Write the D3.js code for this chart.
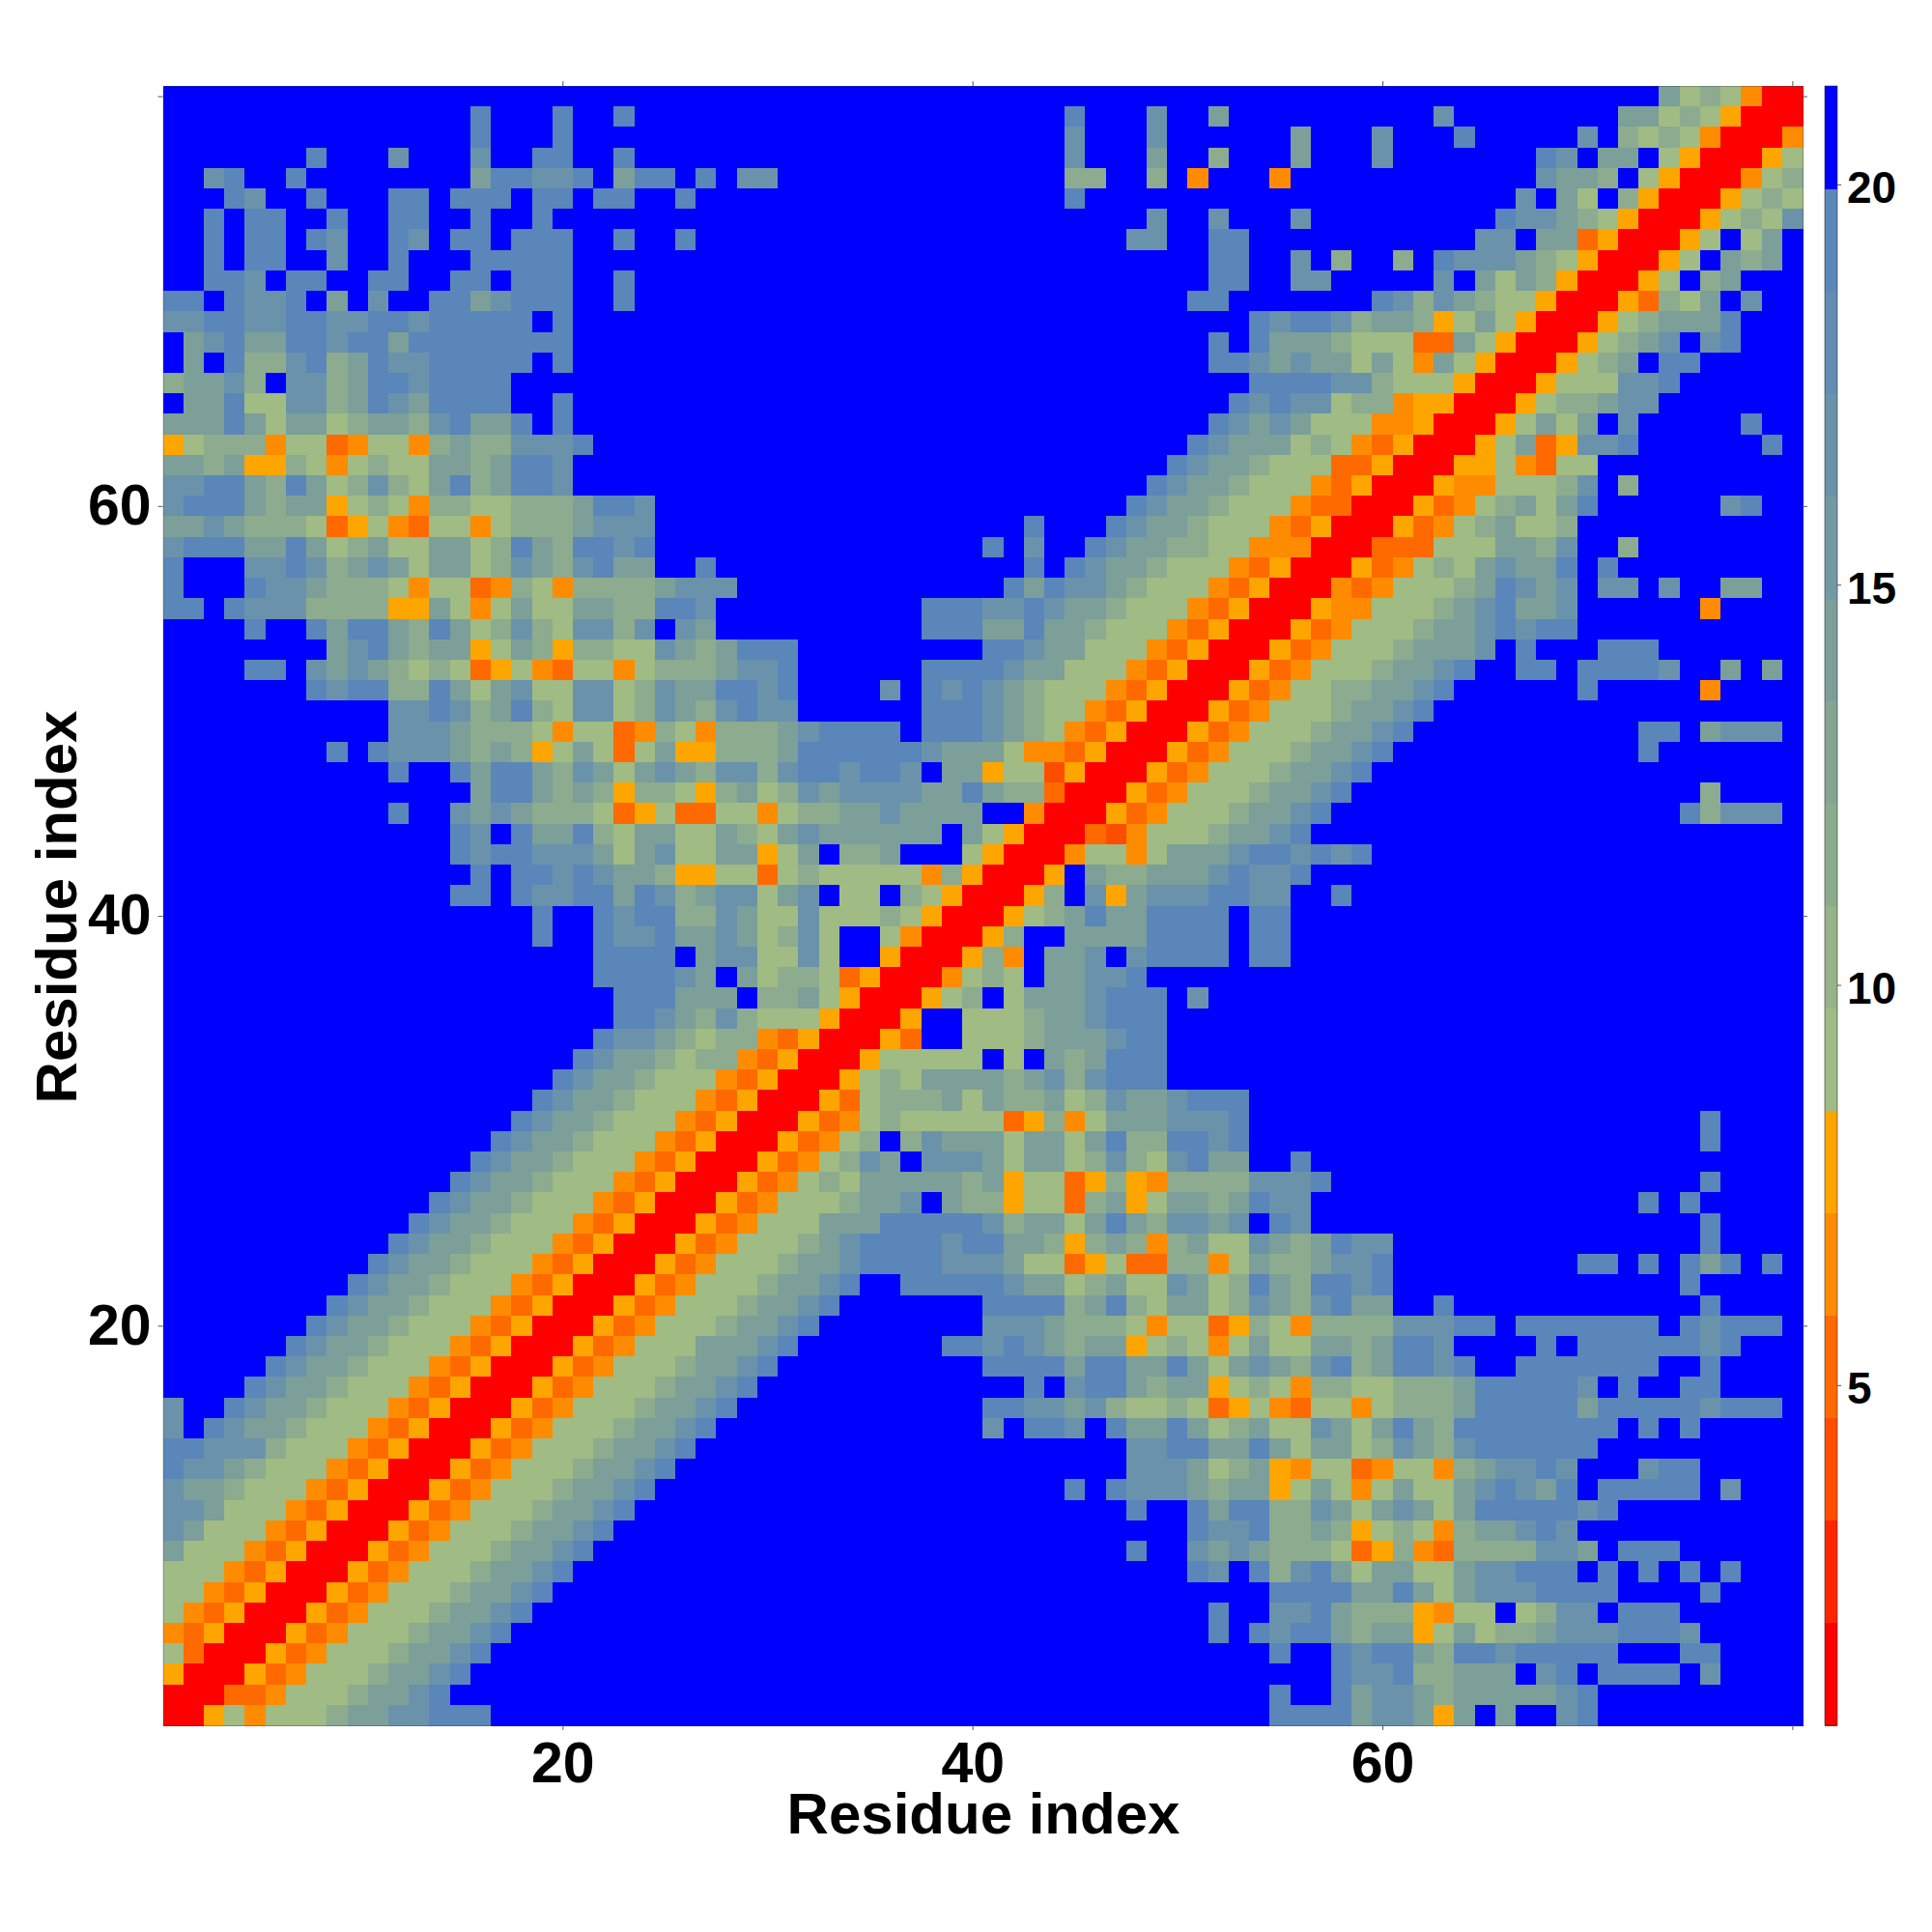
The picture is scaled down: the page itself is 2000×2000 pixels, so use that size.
<!DOCTYPE html>
<html><head><meta charset="utf-8">
<script src="https://cdn.jsdelivr.net/npm/d3@7"></script>
<style>html,body{margin:0;padding:0;background:#fff}svg{display:block}</style>
</head><body><div id="chart"></div>
<script>
// Residue-residue map. One string per row, top row (residue 80) first.
// Each char is a colour-band index (hex); [n] is a run of n cells in the top band.
const rowResidues = d3.range(80, 0, -1);
const colResidues = d3.range(1, 81);
const cellRows = [
"[27]|[27]|[19]a686400",
"[15]e[3]e[2]e[4]|[17]e[3]c[2]a[2]|[8]c[8]aa6865000",
"[15]e[3]e[7]|[17]c[3]c[5]|fa[3]c[3]e[5]cf868640004",
"[7]e[3]c[3]c[2]ee[2]e[4]|[17]c[3]a[2]8[2]|fa[3]c[7]ecfaaf6500056",
"[2]ce[2]e[8]aeeccefaeefe|fcc[14]88[2]8f4[3]|4[12]caa8f65000468",
"[3]ec[2]e[3]eefeeefeefee[2]ef|[17]e[9]|[12]cfa6f850005686",
"[2]efee[2]e[2]ee[2]e[2]e[8]|[21]c[2]c[2]|fc[9]ecca8650005686c",
"[2]efeefec[2]ecfeefeee[2]e[2]ef|[20]cc[2]eef|[10]ccfaa3500056f6af",
"[2]efee[2]c[2]e[3]eeeee[7]|[24]eef|fcf8[2]8feccca86500056fa8af",
"[2]eecfee[2]ee[2]eefeee[2]e[4]|[24]eef|fcc[5]cfa6a8500056f8a[3]",
"eefeccefafc[2]eeaceee[2]e[4]|[23]ee[2]|[5]ec8ca86650005386afc[2]",
"cceecceecceeceeeeefe[7]|[26]e|ceec8aa856a65000568aaae[3]",
"faceaaeeceeaeeeeeeee[7]|[24]efe|aaa866633a65000568acfce[3]",
"fafe88ce8aecceeeeefe[7]|[24]eec|acaa6a64a65000568afee[5]",
"8aac8fcc8aeeceeee[10]|[26]e|eeecc866650005666cce[6]",
"faae66cc8aecaeeee[2]e[7]|[25]ec|ecc6884550005688acc[7]",
"aaaea6aa68aa8ceaaefe[7]|[24]eca|ca66644500056a6afc[5]e[2]",
"56888466346648a88ccce[6]|[23]ecaa|a68643500056a35cce[6]ef",
"aa8a558646866aa8aeec[7]|[22]ecaa8|6663350005564366[10]",
"cceea8ea68c86ae8aeec[7]|[21]ecaa86|664350005446668cf8[8]",
"ceeea8aa568648866888aeec[3]|[20]ecaa866|643300053468a6ae[6]ce[2]",
"aaca8886356436646888accc[3]|[15]e[3]ecaa8666|43500053468a668[11]",
"ceeeaaea68a66aa68ea8eece[3]|[13]efc[2]ecaa88664|44000333666aa8c[2]8[8]",
"e[3]ccec8aca6aa68ca8ceaa[2]e|[15]efecaa866643|5000534686acaaefe[9]",
"e[3]ecca8886466348648888acc|c[13]eaecca8666435|0004346668aecacfccfc[2]aa[2]",
"eefeccc888855a646a66aa88eec|[10]eeeccecaa86664350|005446668aceaac[6]4[4]",
"[4]e[2]eaeea8ea68c86cc8cfca|[10]eeeaaeaa866643500|05346668aacecee[11]",
"[8]acea8aa56a858866ca8|aeee[9]eecaa666435000|5346668aaacfe[3]eee[7]",
"[4]eefcaca8686356436646888|acce[6]eeeecaa6664350005|346668aace[2]eefeeeec[2]afaf",
"[7]ecee88ea6ac66cc68caa|eece[4]cfececa866643500053|46688aace[6]e[5]4[4]",
"[11]ccec8ae86cc68ca8|cecc[6]eeeca866435000534|6668aace[18]",
"[11]ccca888646634864|888aceeeefeeeca864350005346|668aace[11]eefacccf",
"[8]efeccca8a856a636a55|888aeeeeeecaaa6443500053466|68aace[12]e[7]",
"[11]e[2]eaeea8ca6aca8|cc8ceeceecfaa56625000534666|8aace[21]",
"[15]aeea8a858865|8a68caccccaaea8830005346668|aace[17]8[4]",
"[11]e[2]caca888635633|664688aacaaaa[2]40005346668a|ace[17]e8cccf",
"[14]ecfeaae86aa66|a86acaaaaaafa650003246668aa|ce[24]",
"[14]eceeccca6ac66|aa56af88a[3]6500046646aaace|ecece[21]",
"[15]efeececaa855|66368666664850005fa88aaacec|ce[24]",
"[14]eefecceeaec8a|cc6acf66f86500058fc5accceec|c[2]e[22]",
"[18]e[2]ecee88|ca66c666865000568aeaaeeeefe|e[25]",
"[18]e[2]ecceaa|ca68c6[2]6400058[2]aaaaeeeefe|e[25]",
"[21]eeeefa|cc66c6[2]5000584faacfceeeefe|e[25]",
"[21]eeeeca|fa6886350004686faacce[6]|[26]",
"[22]eeeaa|af88a65000568f6aaaceeefc[3]|[26]",
"[22]eeca8|c866650005[2]6668aaceee[5]|[26]",
"[21]ecca86|8843500053[2]6668aaacee[5]|[26]",
"[20]ecaa868|8435000566666f6fa8aeee[5]|[26]",
"[19]ecaa8666|4350005686aaaa8ac8ceee[5]|[26]",
"[18]ecaa86664|35000536888a6a88a68caaceeef|[26]",
"[17]ecaa866643|5000534686666635846aaacccef|[21]e[4]",
"[16]ecaa8666435|00053468f8caaa6aa6ae88eecef|[21]e[4]",
"[15]ecaa86664350|0053468cafccca6aa68c86ceaaf|fe[24]",
"[14]ecaa866643500|0534686aaaaa8a566358548888c|cce[18]e[4]",
"[13]ecaa8666435000|5346668aacfa8856638a56aa8ae|cc[16]efe[5]",
"[12]ecaa86664350005|34666aaaeeeeec8aa6aea8ccacf|ec[19]e[4]",
"[11]ecaa866643500053|46668aceeeeceeaa858a848a66c|a8aecc[15]e[4]",
"[10]ecaa8666435000534|6668aaceeeeccca66356338846a|88acce[9]eefefeaefef",
"[9]ecaa86664350005346|668aace[2]eeeeecaa68a66ca68e|a8eece[14]e[5]",
"[8]ecaa866643500053466|68aace[7]eeee8ae86aa68c|a8ceaa[2]e[12]e[4]",
"[7]ecaa8666435000534666|8aace[8]ccca8886466358|648888ccceefeeeeeeefeceeef",
"[6]ecaa8666435000534666a|aace[7]eececa8aa568646a|66aa8aeec[4]efeeeeeece[3]",
"[5]ecaa86664350005346668a|ace[10]eeeeaeeaaea6ac|a8ce8aeece[2]eeeeeee[2]e[4]",
"[4]ecaa86664350005346668aa|ce[13]efceea8aa568|648866888aeeeeecfe[2]ee[4]",
"c[2]ecaa86664350005346668aac|e[12]eeccac86686356|436646888aeeeeeaeeeeeceeef",
"cfecaa86664350005346668aace|[13]cfeecfeaaea68a|66ca6aea8eeeeeeeefefe[5]",
"eeccc86664350005346668aacef|[20]cceeaae|a6aa68ca8ceeeeee[10]",
"ecca86664350005346668aace[2]|[20]ccca68a|5466346648accec[3]cee[5]",
"caa86664350005346668aace[3]|[17]efeccca8aa|56a646a66acecaefeeeeefc[3]",
"cca6664350005346668aace[4]|[20]e[2]eaee|88ca6aca6aeeeeece[9]",
"ca6664350005346668aace[5]|[23]ecce|88a8568648aacec[11]",
"a6664350005346668aace[6]|[20]e[2]caca|8886358438888ccafeee[6]",
"6664350005346668aace[7]|[23]ecfe|8cea6aa66acceeefefefefe[3]",
"664350005346668aace[8]|[27]|eeeeaaea6accceeee[4]e[4]",
"64350005346668aace[9]|[24]e[2]|ccea8885466f68ccfeee[6]",
"4350005346668aace[10]|[24]efe|ceea8aa56a688accceeec[5]",
"630005346668aace[11]|[27]|e[2]eceea8eeceeeee[3]ee[4]",
"50005346668aace[12]|[27]|[3]ecce88aaafcefeeeefc[4]",
"0003346668aace[13]|[27]|e[2]eacca8aaaaace[10]",
"005646668aacceee[11]|[27]|eeeeacca5afa[2]ce[10]"
];
const bandEdges = [0.75,2.03,3.31,4.59,5.87,7.15,8.43,9.71,10.99,12.27,13.55,14.83,16.11,17.39,18.67,19.95,21.23];
const bandColors = ["#ff0000","#ff2500","#ff4d00","#ff6a00","#ff8c00","#ffa500",
  "#a0bb83","#97b389","#8dab8f","#85a594","#7c9f9a","#729aa2","#6a93ab","#618cb3","#5a86b9","#0000ff"];
const axisTicks = [20,40,60,80];
const labelledTicks = [20,40,60];
const barTicks = [5,10,15,20];
const axisTitle = "Residue index";

const FONT = '"Liberation Sans", Arial, Helvetica, sans-serif';
const L=168.6, R=1866, T=89, B=1786;
const chunkSizes=[27,27,26];
const decoded = cellRows.map((row,ri)=>{
  const parts=row.split("|").map(p=>p.replace(/\[(\d+)\]/g,(m,n)=>"f".repeat(+n)));
  parts.forEach((p,i)=>{ if(p.length!==chunkSizes[i]) throw new Error("row "+rowResidues[ri]+" chunk "+i+" length "+p.length); });
  return parts.join("");
});
const values=[];
decoded.forEach((s,ri)=>{ for(let c=0;c<80;c++){ const b=parseInt(s[c],16);
  values.push({x:colResidues[c],y:rowResidues[ri],v:(bandEdges[b]+bandEdges[b+1])/2}); }});

const x=d3.scaleLinear().domain([0.5,80.5]).range([L,R]);
const y=d3.scaleLinear().domain([0.5,80.5]).range([B,T]);
const color=d3.scaleThreshold().domain(bandEdges.slice(1,-1)).range(bandColors);

const svg=d3.select("#chart").append("svg").attr("width",2000).attr("height",2000)
  .style("background","#fff");

svg.append("g").attr("shape-rendering","crispEdges").selectAll("rect").data(values).join("rect")
  .attr("x",d=>x(d.x-0.5)).attr("y",d=>y(d.y+0.5))
  .attr("width",d=>x(d.x+0.5)-x(d.x-0.5)+0.5).attr("height",d=>y(d.y-0.5)-y(d.y+0.5)+0.5)
  .attr("fill",d=>color(d.v));

function styleAxis(g,fs){
  g.selectAll(".domain").attr("stroke","#334").attr("stroke-width",0.5).attr("stroke-opacity",0.7);
  g.selectAll(".tick line").attr("stroke","#555").attr("stroke-width",1);
  g.selectAll(".tick text").attr("fill","#000").attr("font-family",FONT).attr("font-weight","bold").attr("font-size",fs);
}
const fmt=d=>labelledTicks.includes(d)?String(d):"";
svg.append("g").attr("transform",`translate(0,${B})`)
  .call(d3.axisBottom(x).tickValues(axisTicks).tickSize(5).tickSizeOuter(0).tickPadding(12).tickFormat(fmt)).call(styleAxis,59);
svg.append("g").attr("transform",`translate(0,${T})`)
  .call(d3.axisTop(x).tickValues(axisTicks).tickSize(5).tickSizeOuter(0).tickFormat("")).call(styleAxis,59);
svg.append("g").attr("transform",`translate(${L},0)`)
  .call(d3.axisLeft(y).tickValues(axisTicks).tickSize(5).tickSizeOuter(0).tickPadding(7).tickFormat(fmt)).call(styleAxis,59);
svg.append("g").attr("transform",`translate(${R},0)`)
  .call(d3.axisRight(y).tickValues(axisTicks).tickSize(5).tickSizeOuter(0).tickFormat("")).call(styleAxis,59);

svg.append("text").attr("x",1018).attr("y",1882).attr("text-anchor","middle").attr("dominant-baseline","middle")
  .attr("font-family",FONT).attr("font-weight","bold").attr("font-size",60).text(axisTitle);
svg.append("text").attr("transform","translate(63,939) rotate(-90)").attr("text-anchor","middle").attr("dominant-baseline","middle")
  .attr("font-family",FONT).attr("font-weight","bold").attr("font-size",60).text(axisTitle);

// colour bar
const barL=1889, barR=1902;
const barScale=d3.scaleLinear().domain([bandEdges[0],bandEdges[bandEdges.length-1]]).range([B,T]);
svg.append("g").attr("shape-rendering","crispEdges").selectAll("rect").data(bandColors).join("rect")
  .attr("x",barL).attr("width",barR-barL)
  .attr("y",(d,i)=>barScale(bandEdges[i+1])).attr("height",(d,i)=>barScale(bandEdges[i])-barScale(bandEdges[i+1])+0.5)
  .attr("fill",d=>d);
svg.append("rect").attr("x",barL).attr("y",T).attr("width",barR-barL).attr("height",B-T).attr("fill","none").attr("stroke","#333").attr("stroke-width",0.6);
svg.append("g").attr("transform",`translate(${barR},0)`)
  .call(d3.axisRight(barScale).tickValues(barTicks).tickSize(4).tickSizeOuter(0).tickPadding(6).tickFormat(d3.format("d")))
  .call(styleAxis,46).call(g=>g.select(".domain").remove())
  .call(g=>g.selectAll(".tick text").attr("dy","0.41em"));
</script></body></html>
